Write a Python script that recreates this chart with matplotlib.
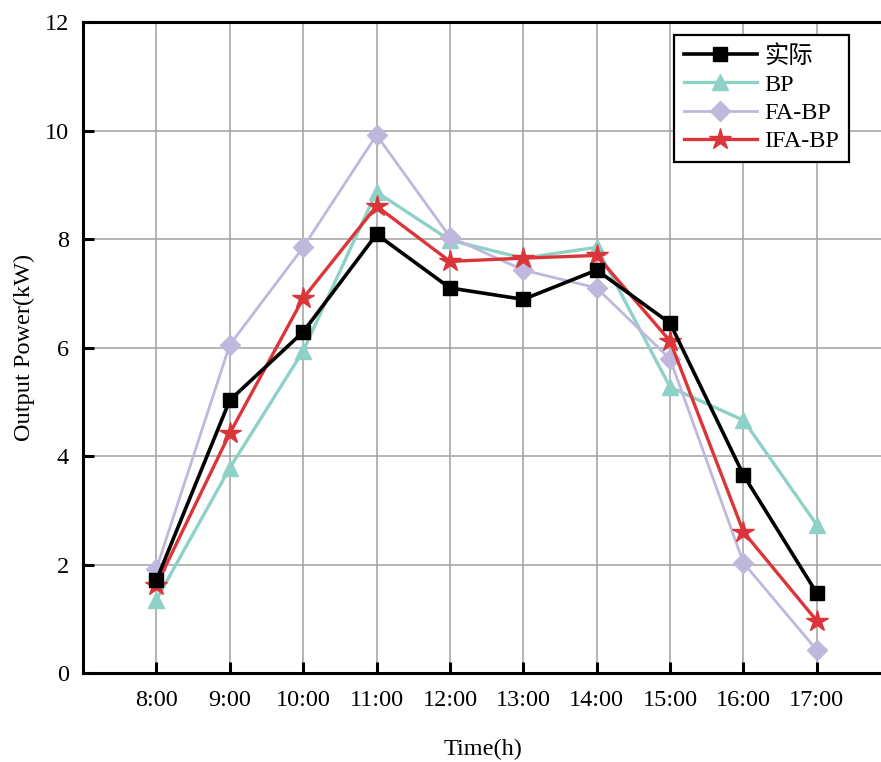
import matplotlib
matplotlib.use("Agg")
import matplotlib.pyplot as plt

plt.rcParams["font.family"] = ["Liberation Serif", "Noto Sans CJK SC"]

hours = ["8:00", "9:00", "10:00", "11:00", "12:00", "13:00", "14:00", "15:00", "16:00", "17:00"]
actual = [1.71, 5.03, 6.29, 8.09, 7.10, 6.89, 7.43, 6.45, 3.65, 1.47]
bp = [1.35, 3.78, 5.94, 8.87, 7.98, 7.65, 7.85, 5.27, 4.66, 2.73]
fa_bp = [1.92, 6.05, 7.85, 9.92, 8.04, 7.43, 7.10, 5.79, 2.03, 0.42]
ifa_bp = [1.62, 4.42, 6.91, 8.61, 7.59, 7.65, 7.70, 6.12, 2.60, 0.96]

fig = plt.figure(figsize=(8.81, 7.62), dpi=100)
ax = fig.add_axes([0.0942, 0.1168, 0.908, 0.854])

x = list(range(len(hours)))
ax.plot(x, bp, color="#8ed1c6", lw=2.4, marker="^", ms=12, label="BP", zorder=3)
ax.plot(x, fa_bp, color="#bfb8dc", lw=2.0, marker="D", ms=10, label="FA-BP", zorder=3)
ax.plot(x, ifa_bp, color="#dc3539", lw=2.4, marker="*", ms=16, label="IFA-BP", zorder=4)
ax.plot(x, actual, color="black", lw=2.6, marker="s", ms=10, label="实际", zorder=5)

ax.set_xlim(-1, 9.9)
ax.set_ylim(0, 12)
ax.set_xticks(x)
ax.set_xticklabels(hours)
ax.set_yticks(range(0, 13, 2))
ax.tick_params(direction="in", length=8, width=2.2, labelsize=17.5, pad=12)
ax.tick_params(axis="y", pad=10)
for s in ax.spines.values():
    s.set_linewidth(2.2)

ax.grid(True, color="#a0a0a0", lw=1.1)
ax.set_axisbelow(True)
ax.set_xlabel("Time(h)", fontsize=17.5, labelpad=20)
ax.set_ylabel("Output Power(kW)", fontsize=17.5, labelpad=7)

h, l = ax.get_legend_handles_labels()
order = [3, 0, 1, 2]
leg = ax.legend([h[i] for i in order], [l[i] for i in order], loc="upper right",
                bbox_to_anchor=(0.957, 0.98), fontsize=17.5, handlelength=3.0,
                fancybox=False, edgecolor="black", framealpha=1,
                borderpad=0.4, labelspacing=0.25, handletextpad=0.3, borderaxespad=0)
leg.get_frame().set_linewidth(1.6)

fig.savefig("out.png", dpi=100)
